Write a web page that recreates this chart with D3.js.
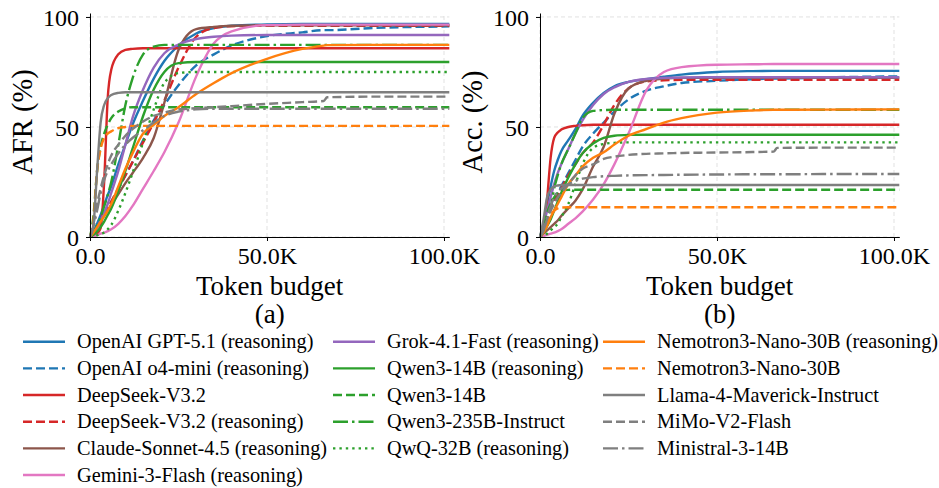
<!DOCTYPE html>
<html><head><meta charset="utf-8">
<script src="https://cdn.jsdelivr.net/npm/d3@7/dist/d3.min.js"></script>
<style>body{margin:0;background:#fff}svg{display:block}text{font-family:"Liberation Serif","Times New Roman",serif;fill:#000}</style>
</head><body><div id="chart"></div>
<script>
// token budgets in thousands of tokens (shared grid)
const budgetK = [0,1,2,3,4,5,6,8,10,12,15,18,21,25,30,35,40,50,60,66,67,80,101.5];
const xTicks = [0, 50, 100];
const xTickLabels = ["0.0", "50.0K", "100.0K"];
const yTicks = [0, 50, 100];

const models = ["OpenAI GPT-5.1 (reasoning)","OpenAI o4-mini (reasoning)","DeepSeek-V3.2","DeepSeek-V3.2 (reasoning)","Claude-Sonnet-4.5 (reasoning)","Gemini-3-Flash (reasoning)","Grok-4.1-Fast (reasoning)","Qwen3-14B (reasoning)","Qwen3-14B","Qwen3-235B-Instruct","QwQ-32B (reasoning)","Nemotron3-Nano-30B (reasoning)","Nemotron3-Nano-30B","Llama-4-Maverick-Instruct","MiMo-V2-Flash","Ministral-3-14B"];
const colors = ["#1f77b4","#1f77b4","#d62728","#d62728","#8c564b","#e377c2","#9467bd","#2ca02c","#2ca02c","#2ca02c","#2ca02c","#ff7f0e","#ff7f0e","#7f7f7f","#7f7f7f","#7f7f7f"];
const styles = ["solid","dashed","solid","dashed","solid","solid","solid","solid","dashed","dashdot","dotted","solid","dashed","solid","dashed","dashdot"];

// AFR (%) per model, on budgetK grid
const afrGPT51   = [0,2.5,6,10,14.5,19,23,33,42,51,62,72,80,87,92.5,95,96,96.6,96.8,96.8,96.8,96.8,96.8];
const afrO4mini  = [0,2,4,7,10,13,16,22,28,34,44,53,60,69,78,83,87,91.3,93,94,94,95,95.7];
const afrDSV32   = [0,0.5,1.5,4,25,63,76,83,85,85.5,85.8,85.8,85.8,85.8,85.8,85.8,85.8,85.8,85.8,85.8,85.8,85.8,85.8];
const afrDSV32R  = [0,1.5,4,7,10,13,16,22,28,34,43,52,62,77,91,95,95.8,96,96,96,96,96,96];
const afrClaude  = [0,2,4.5,7,9.5,12,14.5,19.5,24.5,29,36,45,61,85,94.5,95.5,96,96.2,96.2,96.2,96.2,96.2,96.2];
const afrGemini  = [0,0.3,0.8,1.5,2,2.7,3.5,6,9.5,14,22,30,38.5,52,73,88,93.5,96.3,96.5,96.5,96.5,96.5,96.5];
const afrGrok    = [0,1.5,4,7.5,11,15,20,30,42,54,67,77,83.5,87.5,90,91,91.5,91.8,91.8,91.8,91.8,91.8,91.8];
const afrQ14R    = [0,1,2.5,4.5,7,10,13,21,30,40,55,67,75,79,79.5,79.5,79.5,79.5,79.5,79.5,79.5,79.5,79.5];
const afrQ14     = [0,10,30,41,47,51,54,57,58.5,59,59,59,59,59,59,59,59,59,59,59,59,59,59];
const afrQ235    = [0,2,5,9,14,19,25,42,60,72,83,86.5,87.3,87.3,87.3,87.3,87.3,87.3,87.3,87.3,87.3,87.3,87.3];
const afrQwQ     = [0,0.3,0.8,1.3,2,3.5,5.5,12,20,29,43,58,70,74.5,75,75,75,75,75,75,75,75,75];
const afrNemoR   = [0,2,4.5,7,9.5,12,15,23,31,38,47,51,55,59,65,70,74.5,81,85.5,87,87.2,87.3,87.3];
const afrNemo    = [0,8,30,40,45,47,48,49.5,50,50.5,50.5,50.5,50.5,50.5,50.5,50.5,50.5,50.5,50.5,50.5,50.5,50.5,50.5];
const afrLlama   = [0,6,30,52,60,63,64.5,65.5,65.8,65.8,65.8,65.8,65.8,65.8,65.8,65.8,65.8,65.8,65.8,65.8,65.8,65.8,65.8];
const afrMiMo    = [0,6,15,22,28,33,37,42,46,49,52.5,55,56.5,58,58.5,59,59.5,60.5,61.3,61.8,63.5,63.8,63.8];
const afrMinis   = [0,5,12,20,26,30,33,38,42,45,48.5,52,55,57,58,58.3,58.3,58.3,58.3,58.3,58.3,58.3,58.3];

// Accuracy (%) per model, on budgetK grid
const accGPT51   = [0,6,15,23,30,35,39,44,49,55,61,65.5,68.5,70.5,71.7,72.8,73.8,75,75.4,75.5,75.5,75.5,75.5];
const accO4mini  = [0,4,9,13,17,20,23,29,35,41,47,52,57,62.5,66.5,68.5,70,71,71.7,72,72,72.5,73];
const accDSV32   = [0,3,17,36,45,47.5,48.8,50,50.5,50.8,51,51,51,51,51,51,51,51,51,51,51,51,51];
const accDSV32R  = [0,3,8,12,16,19,22,28,33,38,43,51,60,67.5,70.7,71.2,71.4,71.4,71.4,71.4,71.4,71.4,71.4];
const accClaude  = [0,1.5,3,4.5,6,7.5,9.5,13,16.5,21.5,32,41,56,67.5,71,72,72.3,72.3,72.3,72.3,72.3,72.3,72.3];
const accGemini  = [0,0.5,1,1.5,2,2.7,3.5,6,8.5,11.5,17,24,33,47,66.5,75,77.2,78.3,78.5,78.6,78.6,78.6,78.6];
const accGrok    = [0,5,12,18,24,29,33,40,47,53,60,65,68,70.5,71.8,72.3,72.5,72.6,72.6,72.6,72.6,72.6,72.6];
const accQ14R    = [0,2,5,8,12,16,20,27,33,38,42.5,45,46,46.4,46.5,46.5,46.5,46.5,46.5,46.5,46.5,46.5,46.5];
const accQ14     = [0,5,11,15,18,20,21,21.4,21.5,21.5,21.5,21.5,21.5,21.5,21.5,21.5,21.5,21.5,21.5,21.5,21.5,21.5,21.5];
const accQ235    = [0,3,8,13,22,28,33,40,47,54,57.3,57.7,57.8,57.8,57.8,57.8,57.8,57.8,57.8,57.8,57.8,57.8,57.8];
const accQwQ     = [0,0.5,1.5,3,4.5,6,9,15,24,33,40.5,42.3,42.8,43,43,43,43,43,43,43,43,43,43];
const accNemoR   = [0,2,5,9,12,15,18,24,28,32,36,38.5,42,46,49,52,54,56.5,57.5,57.8,57.8,57.9,58];
const accNemo    = [0,3,7,10,12,13,13.4,13.5,13.5,13.5,13.5,13.5,13.5,13.5,13.5,13.5,13.5,13.5,13.5,13.5,13.5,13.5,13.5];
const accLlama   = [0,8,18,21.5,23,23.4,23.6,23.6,23.6,23.6,23.6,23.6,23.6,23.6,23.6,23.6,23.6,23.6,23.6,23.6,23.6,23.6,23.6];
const accMiMo    = [0,3,8,12,15,18,20,24,28,31,33,35.5,36.5,37.3,37.8,38,38.2,38.4,38.6,38.8,40.5,40.6,40.6];
const accMinis   = [0,3,9,14,18,20.5,22,24,25.5,26.5,27.2,27.6,27.8,28,28.1,28.2,28.3,28.4,28.5,28.5,28.5,28.6,28.6];

const afrSeries = [afrGPT51,afrO4mini,afrDSV32,afrDSV32R,afrClaude,afrGemini,afrGrok,afrQ14R,afrQ14,afrQ235,afrQwQ,afrNemoR,afrNemo,afrLlama,afrMiMo,afrMinis];
const accSeries = [accGPT51,accO4mini,accDSV32,accDSV32R,accClaude,accGemini,accGrok,accQ14R,accQ14,accQ235,accQwQ,accNemoR,accNemo,accLlama,accMiMo,accMinis];

const W = 939, H = 488, LW = 2.4;
const dashes = {solid: null, dashed: "9,4", dashdot: "15,4,2.5,4", dotted: "2.4,4"};

const svg = d3.select("#chart").append("svg").attr("width", W).attr("height", H);

function panel(x0, yLabel, sub, series) {
  const x = d3.scaleLinear().domain([0, 101.5]).range([x0, x0 + 359.3]);
  const y = d3.scaleLinear().domain([0, 101.8]).range([237, 13]);
  const g = svg.append("g");
  // grid
  g.selectAll(".gx").data(xTicks).join("line")
    .attr("x1", d => x(d)).attr("x2", d => x(d)).attr("y1", y(0)).attr("y2", y(101.8))
    .attr("stroke", "#d9d9d9").attr("stroke-width", 0.8).attr("stroke-dasharray", "4,3");
  g.selectAll(".gy").data(yTicks).join("line")
    .attr("x1", x(0)).attr("x2", x(101.5)).attr("y1", d => y(d)).attr("y2", d => y(d))
    .attr("stroke", "#d9d9d9").attr("stroke-width", 0.8).attr("stroke-dasharray", "4,3");
  // lines
  const line = d3.line().x((d, i) => x(budgetK[i])).y(d => y(d)).curve(d3.curveMonotoneX);
  series.forEach((vals, k) => {
    g.append("path").datum(vals).attr("d", line)
      .attr("fill", "none").attr("stroke", colors[k]).attr("stroke-width", LW)
      .attr("stroke-dasharray", dashes[styles[k]]);
  });
  // axes
  const ax = g.append("g").attr("transform", `translate(0,${y(0)})`)
    .call(d3.axisBottom(x).tickValues(xTicks).tickFormat((d, i) => xTickLabels[i]).tickSize(4).tickPadding(6).tickSizeOuter(0));
  const ay = g.append("g").attr("transform", `translate(${x(0)},0)`)
    .call(d3.axisLeft(y).tickValues(yTicks).tickSize(4).tickPadding(7).tickSizeOuter(0));
  [ax, ay].forEach(a => {
    a.selectAll("text").style("font-family", '"Liberation Serif",serif').style("font-size", "24px").attr("fill", "#000");
    a.selectAll("line,path").attr("stroke", "#000").attr("stroke-width", 1);
  });
  ay.selectAll("text").attr("dy", "0.35em");
  const cx = (x(0) + x(101.5)) / 2;
  g.append("text").attr("x", cx).attr("y", 295).attr("text-anchor", "middle").style("font-size", "27px").text("Token budget");
  g.append("text").attr("x", cx).attr("y", 323).attr("text-anchor", "middle").style("font-size", "27px").text(sub);
  g.append("text").attr("transform", `translate(${x0 - 58},122) rotate(-90)`).attr("text-anchor", "middle").style("font-size", "28.5px").text(yLabel);
}

panel(90, "AFR (%)", "(a)", afrSeries);
panel(540, "Acc. (%)", "(b)", accSeries);

// legend
const colX = [23, 333, 603];
const colCount = [6, 5, 5];
const leg = svg.append("g");
let idx = 0;
colCount.forEach((n, c) => {
  for (let r = 0; r < n; r++, idx++) {
    const yy = 341.7 + r * 26.67;
    leg.append("line").attr("x1", colX[c]).attr("x2", colX[c] + 42).attr("y1", yy).attr("y2", yy)
      .attr("stroke", colors[idx]).attr("stroke-width", LW).attr("stroke-dasharray", dashes[styles[idx]]);
    leg.append("text").attr("x", colX[c] + 54).attr("y", yy).attr("dy", "0.33em").style("font-size", "20.3px").text(models[idx]);
  }
});
</script></body></html>
